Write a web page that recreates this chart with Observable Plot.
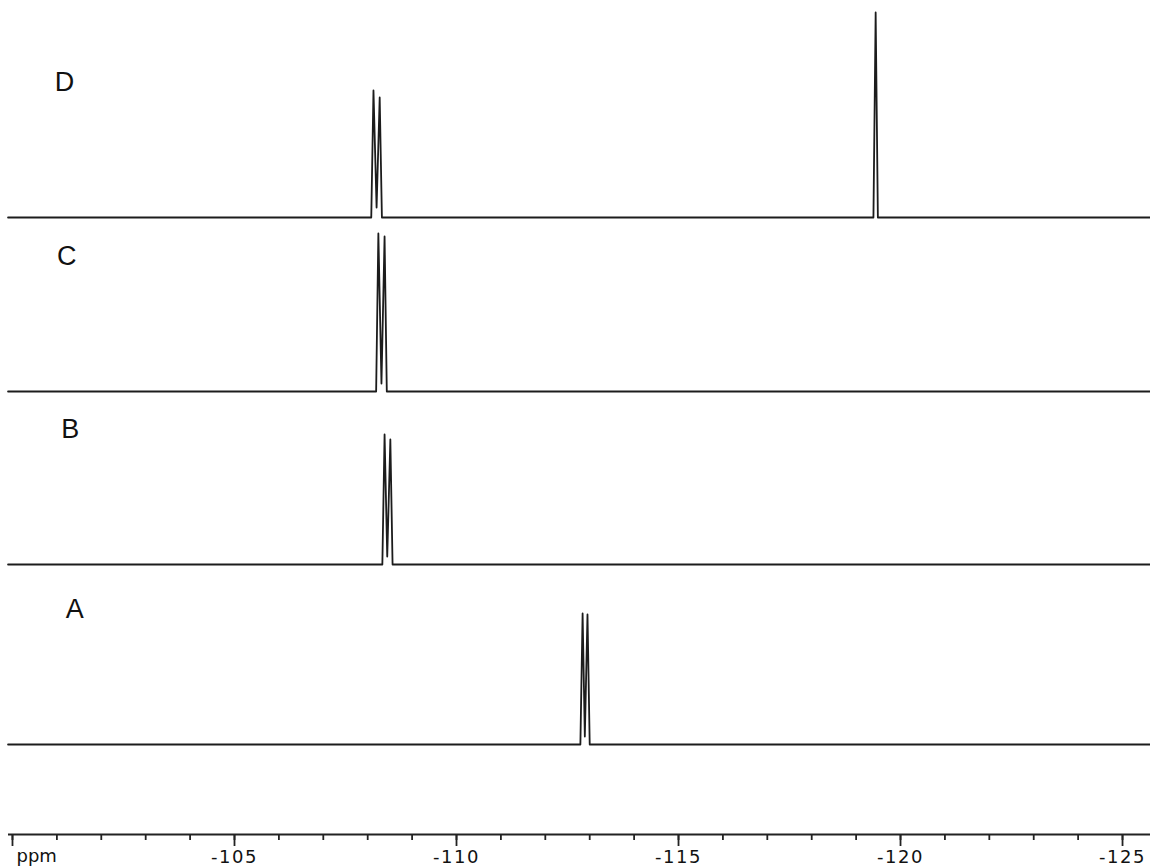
<!DOCTYPE html>
<html>
<head>
<meta charset="utf-8">
<script src="https://cdn.jsdelivr.net/npm/d3@7"></script>
<script src="https://cdn.jsdelivr.net/npm/@observablehq/plot@0.6"></script>
<style>
  html, body { margin: 0; padding: 0; background: #fff; }
  #chart svg { display: block; }
  #chart svg g[aria-label="x-axis tick label"] text { letter-spacing: 1.5px; }
</style>
</head>
<body>
<div id="chart"></div>
<script>
// Spectrum names (bottom to top) and their vertical offsets (intensity units)
const spectra = ["A", "B", "C", "D"];
const offsets = [90, 270, 443, 617];

// Each spectrum: [ppm, intensity] points (peaks drawn as narrow spikes)
const specA = [[-99.9, 0], [-112.79, 0], [-112.84, 131], [-112.89, 8], [-112.95, 130], [-113.0, 0], [-125.7, 0]];
const specB = [[-99.9, 0], [-108.33, 0], [-108.38, 130], [-108.44, 8], [-108.51, 125], [-108.56, 0], [-125.7, 0]];
const specC = [[-99.9, 0], [-108.19, 0], [-108.24, 158], [-108.31, 8], [-108.38, 155], [-108.43, 0], [-125.7, 0]];
const specD = [[-99.9, 0], [-108.08, 0], [-108.13, 127], [-108.20, 10], [-108.27, 120], [-108.32, 0],
               [-119.39, 0], [-119.44, 205], [-119.49, 0], [-125.7, 0]];
const seriesPoints = [specA, specB, specC, specD];

// Label positions (ppm) for spectra A..D
const labelPpm = [-101.2, -101.1, -101.0, -100.95];

// Axis ticks
const majorTicks = [-100, -105, -110, -115, -120, -125];
const minorTicks = d3.range(-100, -126, -1);
const axisUnit = "ppm";

// Build table for the library
const rows = [];
spectra.forEach((name, i) => {
  seriesPoints[i].forEach(([ppm, v]) => rows.push({spectrum: name, ppm, y: offsets[i] + v}));
});
const labels = spectra.map((name, i) => ({name, ppm: labelPpm[i], y: offsets[i] + 127}));

const chart = Plot.plot({
  width: 1150,
  height: 867,
  marginTop: 0,
  marginBottom: 33,
  marginLeft: 0,
  marginRight: 0,
  x: {domain: [-99.73, -125.63], label: null},
  y: {domain: [0, 834], axis: null},
  marks: [
    Plot.ruleY([0], {x1: -99.91, x2: -125.7, stroke: "#222", strokeWidth: 2}),
    Plot.axisX(minorTicks, {tickSize: 6, tickFormat: () => "", stroke: "#222", strokeWidth: 1.8, label: null}),
    Plot.axisX(majorTicks, {tickSize: 12, tickPadding: 4, tickFormat: d => d === -100 ? "" : String(d),
      fontSize: 18, fontFamily: "DejaVu Sans", fill: "#111", stroke: "#222", strokeWidth: 1.8, label: null}),
    Plot.text([axisUnit], {x: -100, y: 0, text: d => d, dx: 4, dy: 22, textAnchor: "start",
      fontSize: 18, fontFamily: "DejaVu Sans", fill: "#111"}),
    Plot.line(rows, {x: "ppm", y: "y", z: "spectrum", stroke: "#1c1c1c", strokeWidth: 1.8}),
    Plot.text(labels, {x: "ppm", y: "y", text: "name", textAnchor: "start", lineAnchor: "bottom",
      fontSize: 27, fontFamily: "Liberation Sans", fill: "#111"})
  ]
});
document.getElementById("chart").appendChild(chart);
</script>
</body>
</html>
